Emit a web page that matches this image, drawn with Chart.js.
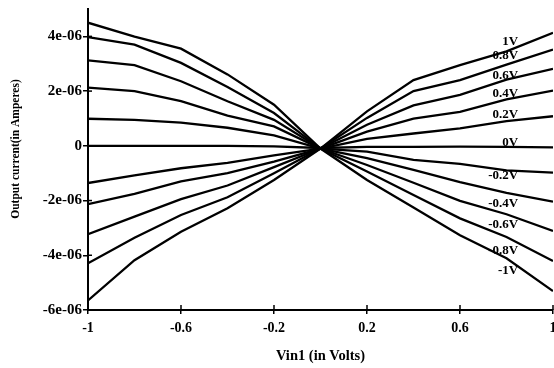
<!DOCTYPE html>
<html><head><meta charset="utf-8">
<script src="https://cdn.jsdelivr.net/npm/chart.js@4"></script>
<style>html,body{margin:0;padding:0;background:#fff;overflow:hidden}#wrap{width:554px;height:368px;position:relative}</style>
</head><body><div id="wrap"><canvas id="c"></canvas></div>
<script>
// Vin1 (volts)
const vin = [-1, -0.8, -0.6, -0.4, -0.2, 0, 0.2, 0.4, 0.6, 0.8, 1];
// Output current (amperes) for each control voltage
const s1V   = [-5.65e-6, -4.18e-6, -3.14e-6, -2.28e-6, -1.25e-6, -0.10e-6, 1.26e-6, 2.40e-6, 2.95e-6, 3.45e-6, 4.13e-6];
const s08V  = [-4.29e-6, -3.36e-6, -2.53e-6, -1.88e-6, -1.00e-6, -0.10e-6, 1.02e-6, 2.00e-6, 2.40e-6, 2.97e-6, 3.52e-6];
const s06V  = [-3.23e-6, -2.59e-6, -1.95e-6, -1.45e-6, -0.78e-6, -0.10e-6, 0.77e-6, 1.48e-6, 1.86e-6, 2.42e-6, 2.81e-6];
const s04V  = [-2.13e-6, -1.76e-6, -1.30e-6, -1.00e-6, -0.58e-6, -0.10e-6, 0.52e-6, 0.99e-6, 1.24e-6, 1.70e-6, 2.02e-6];
const s02V  = [-1.36e-6, -1.08e-6, -0.82e-6, -0.62e-6, -0.35e-6, -0.10e-6, 0.25e-6, 0.45e-6, 0.64e-6, 0.90e-6, 1.08e-6];
const s0V   = [0, 0, 0, 0, -0.02e-6, -0.08e-6, -0.04e-6, -0.04e-6, -0.03e-6, -0.04e-6, -0.06e-6];
const sm02V = [0.99e-6, 0.95e-6, 0.85e-6, 0.66e-6, 0.38e-6, -0.10e-6, -0.21e-6, -0.51e-6, -0.66e-6, -0.90e-6, -0.98e-6];
const sm04V = [2.13e-6, 2.00e-6, 1.63e-6, 1.10e-6, 0.71e-6, -0.10e-6, -0.45e-6, -0.88e-6, -1.33e-6, -1.72e-6, -2.04e-6];
const sm06V = [3.12e-6, 2.95e-6, 2.36e-6, 1.63e-6, 0.95e-6, -0.10e-6, -0.70e-6, -1.35e-6, -2.01e-6, -2.50e-6, -3.11e-6];
const sm08V = [3.97e-6, 3.70e-6, 3.03e-6, 2.15e-6, 1.20e-6, -0.10e-6, -0.94e-6, -1.80e-6, -2.65e-6, -3.33e-6, -4.21e-6];
const sm1V  = [4.50e-6, 3.99e-6, 3.55e-6, 2.61e-6, 1.50e-6, -0.10e-6, -1.25e-6, -2.25e-6, -3.27e-6, -4.11e-6, -5.31e-6];

const seriesNames = ['1V', '0.8V', '0.6V', '0.4V', '0.2V', '0V', '-0.2V', '-0.4V', '-0.6V', '-0.8V', '-1V'];
const seriesValues = [s1V, s08V, s06V, s04V, s02V, s0V, sm02V, sm04V, sm06V, sm08V, sm1V];
// where each series label sits (data coordinates)
const labelX = 0.85;
const labelY = [3.81e-6, 3.29e-6, 2.56e-6, 1.90e-6, 1.13e-6, 0.11e-6, -1.10e-6, -2.12e-6, -2.89e-6, -3.84e-6, -4.57e-6];

const xTicks = [-1, -0.6, -0.2, 0.2, 0.6, 1];
const xTickLabels = ['-1', '-0.6', '-0.2', '0.2', '0.6', '1'];
const yTicks = [-6e-6, -4e-6, -2e-6, 0, 2e-6, 4e-6];
const yTickLabels = ['-6e-06', '-4e-06', '-2e-06', '0', '2e-06', '4e-06'];
const xTitle = 'Vin1 (in Volts)';
const yTitle = 'Output current(in Amperes)';

const FONT = '"Liberation Serif", "Times New Roman", serif';

const datasets = seriesValues.map((vals, i) => ({
  label: seriesNames[i],
  data: vals.map((v, k) => ({x: vin[k], y: v})),
  borderColor: '#000',
  borderWidth: 2.3,
  pointRadius: 0,
  tension: 0,
  fill: false
}));

const overlay = {
  id: 'overlay',
  afterDraw(chart) {
    const ctx = chart.ctx, xs = chart.scales.x, ys = chart.scales.y;
    ctx.save();
    ctx.strokeStyle = '#000';
    ctx.lineWidth = 1.5;
    xTicks.forEach(v => {
      const px = xs.getPixelForValue(v);
      ctx.beginPath(); ctx.moveTo(px, ys.bottom); ctx.lineTo(px, ys.bottom - 5); ctx.stroke();
    });
    yTicks.forEach(v => {
      const py = ys.getPixelForValue(v);
      ctx.beginPath(); ctx.moveTo(xs.left, py); ctx.lineTo(xs.left + 4, py); ctx.stroke();
    });
    ctx.fillStyle = '#000';
    ctx.font = 'bold 13px ' + FONT;
    ctx.textAlign = 'right';
    ctx.textBaseline = 'middle';
    seriesNames.forEach((n, i) => {
      ctx.fillText(n, xs.getPixelForValue(labelX), ys.getPixelForValue(labelY[i]));
    });
    ctx.translate(16, 149);
    ctx.rotate(-Math.PI / 2);
    ctx.textAlign = 'center';
    ctx.font = 'bold 11.5px ' + FONT;
    ctx.fillText(yTitle, 0, 0);
    ctx.restore();
  }
};

new Chart(document.getElementById('c'), {
  type: 'line',
  data: {datasets},
  plugins: [overlay],
  options: {
    responsive: true,
    maintainAspectRatio: false,
    animation: false,
    layout: {padding: {top: 9, right: 1, left: 0, bottom: 0}},
    plugins: {legend: {display: false}, tooltip: {enabled: false}},
    scales: {
      x: {
        type: 'linear', min: -1, max: 1,
        afterBuildTicks: s => { s.ticks = xTicks.map(v => ({value: v})); },
        afterFit: s => { s.height = 58; s.paddingLeft = 0; s.paddingRight = 0; },
        ticks: {
          autoSkip: false, maxRotation: 0, padding: 6,
          color: '#000', font: {family: FONT, size: 14, weight: 'bold'},
          callback: (v, i) => xTickLabels[i]
        },
        grid: {drawOnChartArea: false, color: '#000', lineWidth: 1.5, tickLength: 4},
        border: {display: true, color: '#000', width: 2},
        title: {display: true, text: xTitle, color: '#000', font: {family: FONT, size: 14.5, weight: 'bold'}, padding: {top: 0, bottom: 3}}
      },
      y: {
        type: 'linear', min: -6e-6, max: 5e-6,
        afterBuildTicks: s => { s.ticks = yTicks.map(v => ({value: v})); },
        afterFit: s => { s.width = 88; s.paddingTop = 0; s.paddingBottom = 0; },
        ticks: {
          autoSkip: false, padding: 1,
          color: '#000', font: {family: FONT, size: 15, weight: 'bold'},
          callback: (v, i) => yTickLabels[i]
        },
        grid: {drawOnChartArea: false, color: '#000', lineWidth: 1.5, tickLength: 5},
        border: {display: true, color: '#000', width: 2}
      }
    }
  }
});
</script>
</body></html>
